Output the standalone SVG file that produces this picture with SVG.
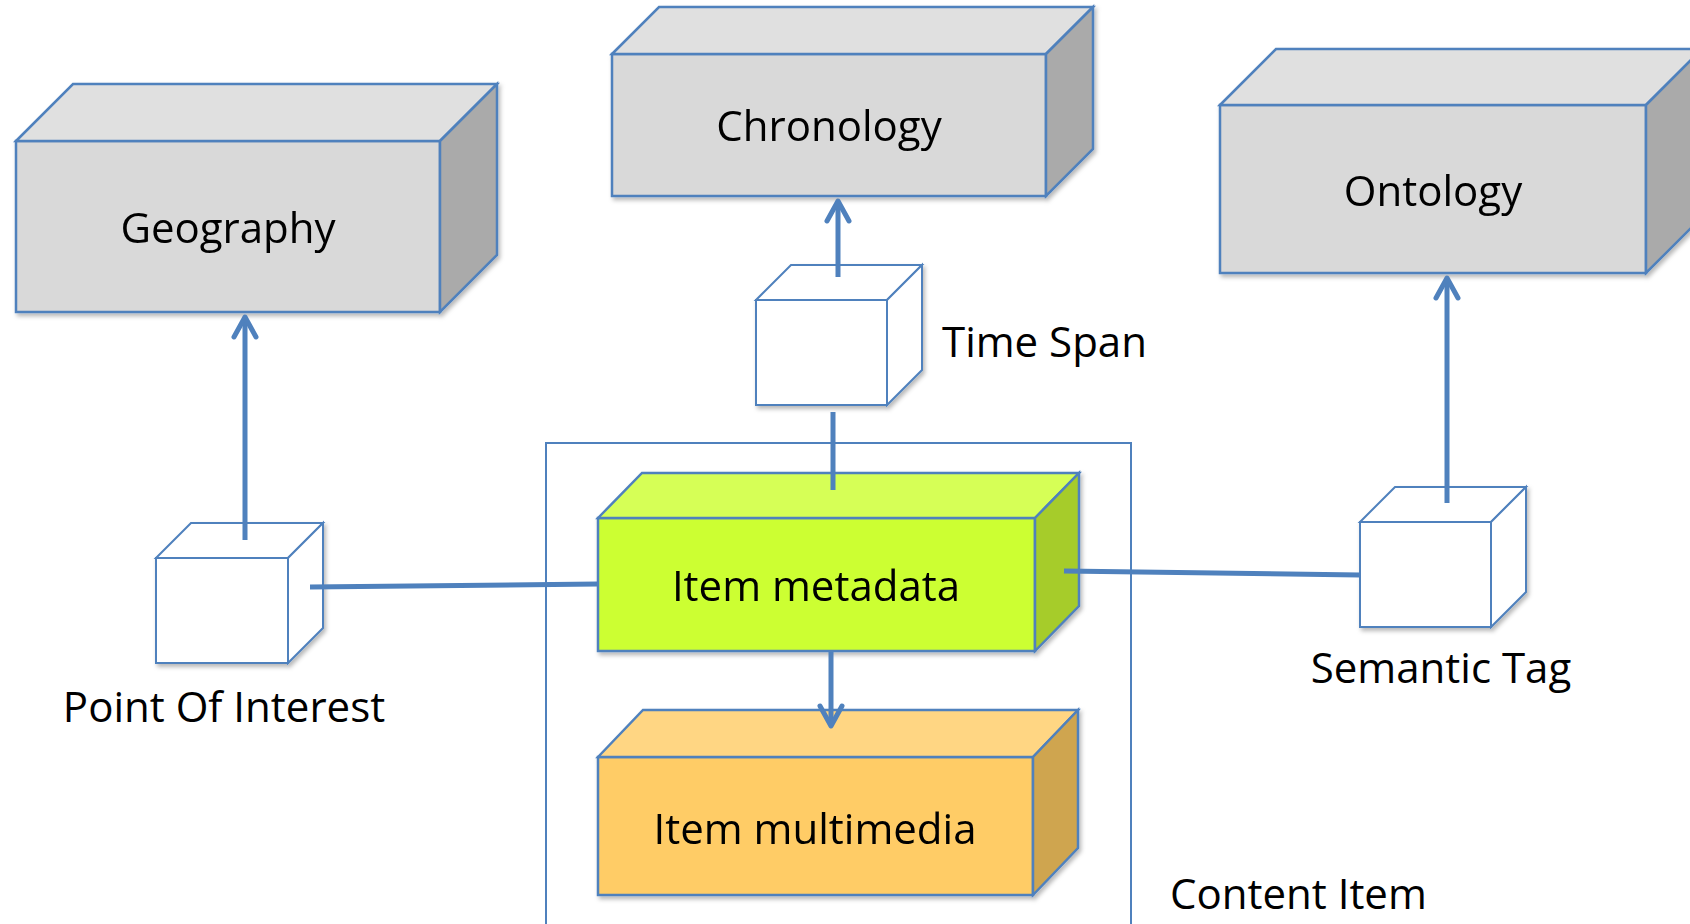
<svg xmlns="http://www.w3.org/2000/svg" width="1690" height="924" viewBox="0 0 1690 924">
<style>
.edge{stroke:#4f81bd;stroke-width:2.5;stroke-linejoin:miter}
.cube{stroke:#4f81bd;stroke-width:2;fill:#ffffff}
.conn{stroke:#4f81bd;stroke-width:5;fill:none}
.lbl{font-family:"Open Sans","Liberation Sans",Arial,sans-serif;font-size:42px;fill:#000}
.gf{fill:#d9d9d9}.gt{fill:#e0e0e0}.gs{fill:#aaaaaa}
</style>
<defs>
<filter id="sh" x="-10%" y="-10%" width="130%" height="130%">
<feDropShadow dx="2" dy="3" stdDeviation="2" flood-color="#000" flood-opacity="0.28"/>
</filter>
<marker id="arr" markerUnits="userSpaceOnUse" markerWidth="40" markerHeight="40" refX="0" refY="0" orient="auto" overflow="visible">
<path d="M-20,-11 L0,0 L-20,11" fill="none" stroke="#4f81bd" stroke-width="5" stroke-linecap="round" stroke-linejoin="round"/>
</marker>
</defs>
<rect width="1690" height="924" fill="#fff"/>

<g id="content-item">
<rect x="546" y="443" width="585" height="500" fill="none" stroke="#4f81bd" stroke-width="2"/>
<text class="lbl" x="1170" y="909">Content Item</text>
</g>

<g id="geography" filter="url(#sh)">
<polygon class="edge gf" points="16,141 440,141 440,312 16,312"/>
<polygon class="edge gt" points="16,141 73,84 497,84 440,141"/>
<polygon class="edge gs" points="440,141 497,84 497,255 440,312"/>
<text class="lbl" x="228" y="243" text-anchor="middle">Geography</text>
</g>

<g id="chronology" filter="url(#sh)">
<polygon class="edge gf" points="612,54 1046,54 1046,196 612,196"/>
<polygon class="edge gt" points="612,54 659,7 1093,7 1046,54"/>
<polygon class="edge gs" points="1046,54 1093,7 1093,149 1046,196"/>
<text class="lbl" x="829" y="141" text-anchor="middle">Chronology</text>
</g>

<g id="ontology" filter="url(#sh)">
<polygon class="edge gf" points="1220,105 1646,105 1646,273 1220,273"/>
<polygon class="edge gt" points="1220,105 1276,49 1702,49 1646,105"/>
<polygon class="edge gs" points="1646,105 1702,49 1702,217 1646,273"/>
<text class="lbl" x="1433" y="206" text-anchor="middle">Ontology</text>
</g>

<g id="item-metadata" filter="url(#sh)">
<polygon class="edge" fill="#ccff33" points="598,518 1035,518 1035,651 598,651"/>
<polygon class="edge" fill="#d6ff57" points="598,518 642,473 1079,473 1035,518"/>
<polygon class="edge" fill="#a6cc29" points="1035,518 1079,473 1079,606 1035,651"/>
<text class="lbl" x="816" y="601" text-anchor="middle">Item metadata</text>
</g>

<g id="item-multimedia" filter="url(#sh)">
<polygon class="edge" fill="#ffcc66" points="598,757 1033,757 1033,895 598,895"/>
<polygon class="edge" fill="#ffd683" points="598,757 643,710 1078,710 1033,757"/>
<polygon class="edge" fill="#cfa54f" points="1033,757 1078,710 1078,848 1033,895"/>
<text class="lbl" x="815" y="844" text-anchor="middle">Item multimedia</text>
</g>

<g id="point-of-interest">
<g filter="url(#sh)">
<polygon class="cube" points="156,558 288,558 288,663 156,663"/>
<polygon class="cube" points="156,558 191,523 323,523 288,558"/>
<polygon class="cube" points="288,558 323,523 323,628 288,663"/>
</g>
<text class="lbl" x="224" y="722" text-anchor="middle">Point Of Interest</text>
</g>

<g id="time-span">
<g filter="url(#sh)">
<polygon class="cube" points="756,300 887,300 887,405 756,405"/>
<polygon class="cube" points="756,300 791,265 922,265 887,300"/>
<polygon class="cube" points="887,300 922,265 922,370 887,405"/>
</g>
<text class="lbl" x="942" y="357">Time Span</text>
</g>

<g id="semantic-tag">
<g filter="url(#sh)">
<polygon class="cube" points="1360,522 1491,522 1491,627 1360,627"/>
<polygon class="cube" points="1360,522 1395,487 1526,487 1491,522"/>
<polygon class="cube" points="1491,522 1526,487 1526,592 1491,627"/>
</g>
<text class="lbl" x="1441" y="683" text-anchor="middle">Semantic Tag</text>
</g>

<g id="connectors">
<line class="conn" x1="245" y1="540" x2="245" y2="317" marker-end="url(#arr)"/>
<line class="conn" x1="310" y1="587" x2="598" y2="584"/>
<line class="conn" x1="838" y1="277" x2="838" y2="201" marker-end="url(#arr)"/>
<line class="conn" x1="833" y1="412" x2="833" y2="490"/>
<line class="conn" x1="831" y1="651" x2="831" y2="726" marker-end="url(#arr)"/>
<line class="conn" x1="1064" y1="571" x2="1360" y2="575"/>
<line class="conn" x1="1447" y1="503" x2="1447" y2="278" marker-end="url(#arr)"/>
</g>
</svg>
